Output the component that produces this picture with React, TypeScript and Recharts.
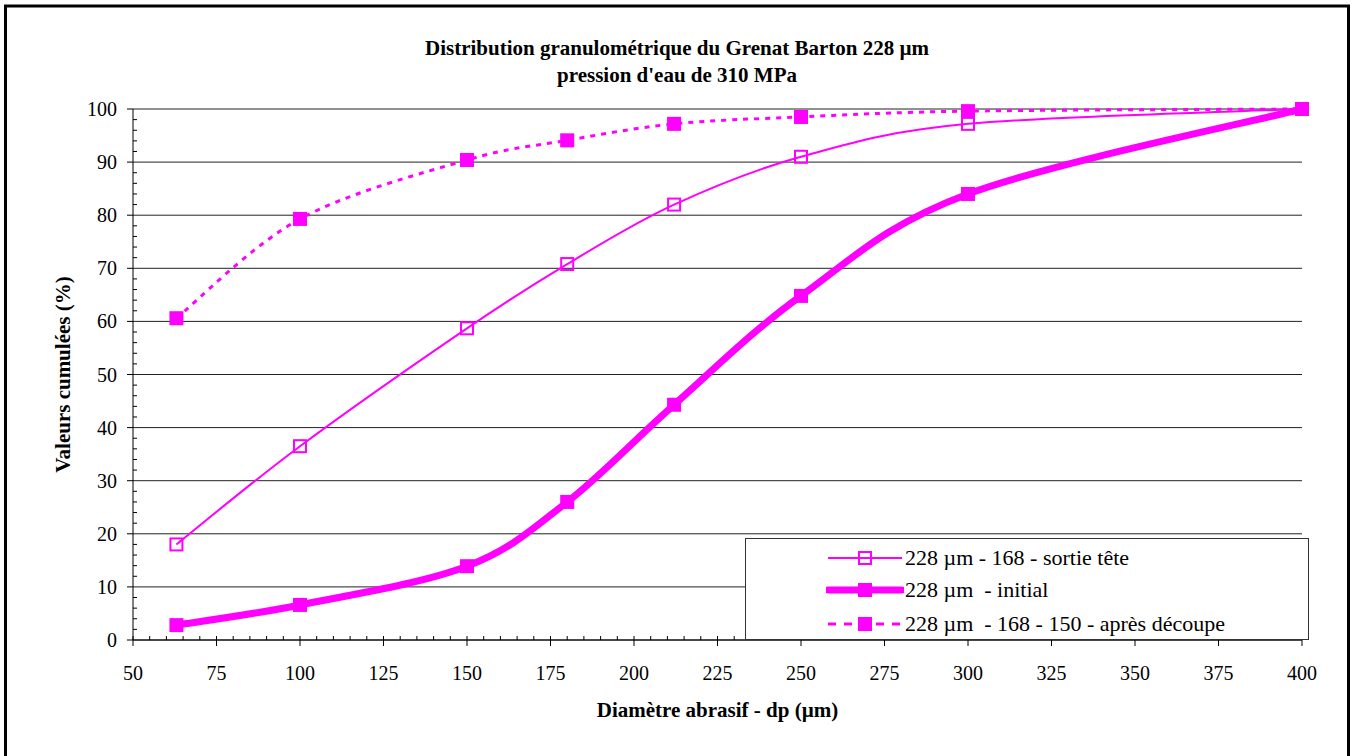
import React from 'react';
import { LineChart, Line, XAxis, YAxis, CartesianGrid, Legend } from 'recharts';

// diamètres mesurés (µm)
const diameters = [63, 100, 150, 180, 212, 250, 300, 400];
// valeurs cumulées (%)
const sortieTete = [18, 36.5, 58.7, 70.8, 82, 91, 97.2, 100];
const initial = [2.8, 6.6, 13.9, 26, 44.3, 64.8, 84, 100];
const apresDecoupe = [60.6, 79.3, 90.4, 94.1, 97.2, 98.5, 99.6, 100];

const xMajorTicks = [50, 75, 100, 125, 150, 175, 200, 225, 250, 275, 300, 325, 350, 375, 400];
const yMajorTicks = [0, 10, 20, 30, 40, 50, 60, 70, 80, 90, 100];

// graduations secondaires : 5 par intervalle en x, 5 par intervalle en y
const xTicks = xMajorTicks.flatMap((t, i) =>
  i === xMajorTicks.length - 1 ? [t] : [t, t + 5, t + 10, t + 15, t + 20]
);
const yTicks = yMajorTicks.flatMap((t, i) =>
  i === yMajorTicks.length - 1 ? [t] : [t, t + 2, t + 4, t + 6, t + 8]
);

const data = diameters.map((d, i) => ({
  d,
  sortie: sortieTete[i],
  initial: initial[i],
  apres: apresDecoupe[i],
}));

const MAGENTA = '#FF00FF';
const FONT = '"Liberation Serif", "Times New Roman", serif';

const series = [
  { key: 'sortie', name: '228 µm - 168 - sortie tête', width: 2, dash: undefined, open: true },
  { key: 'initial', name: '228 µm  - initial', width: 7, dash: undefined, open: false },
  { key: 'apres', name: '228 µm  - 168 - 150 - après découpe', width: 3, dash: '5 6', open: false },
];

// lissage type Excel (Bézier / Catmull-Rom)
const excelSmooth = (context: any) => {
  let pts: [number, number][] = [];
  return {
    areaStart() {},
    areaEnd() {},
    lineStart() {
      pts = [];
    },
    lineEnd() {
      const n = pts.length;
      if (!n) return;
      context.moveTo(pts[0][0], pts[0][1]);
      for (let i = 0; i < n - 1; i++) {
        const p0 = pts[i - 1] || pts[i];
        const p1 = pts[i];
        const p2 = pts[i + 1];
        const p3 = pts[i + 2] || p2;
        context.bezierCurveTo(
          p1[0] + (p2[0] - p0[0]) / 6,
          p1[1] + (p2[1] - p0[1]) / 6,
          p2[0] - (p3[0] - p1[0]) / 6,
          p2[1] - (p3[1] - p1[1]) / 6,
          p2[0],
          p2[1]
        );
      }
    },
    point(x: number, y: number) {
      pts.push([+x, +y]);
    },
  };
};

const squareDot = (open: boolean) => (p: any) => {
  const s = open ? 12 : 14;
  return (
    <rect
      key={p.index}
      x={p.cx - s / 2}
      y={p.cy - s / 2}
      width={s}
      height={s}
      fill={open ? 'none' : MAGENTA}
      stroke={MAGENTA}
      strokeWidth={open ? 2 : 0}
    />
  );
};

const XTick = (props: any) => {
  const { x, y, payload } = props;
  const v = payload.value;
  const major = xMajorTicks.includes(v);
  return (
    <g>
      {major ? (
        <line x1={x} x2={x} y1={y - 4} y2={y + 6} stroke="#000" />
      ) : (
        <line x1={x} x2={x} y1={y} y2={y - 4} stroke="#000" />
      )}
      {major && (
        <text x={x} y={y + 40} textAnchor="middle" fontSize={20} fontFamily={FONT} fill="#000">
          {v}
        </text>
      )}
    </g>
  );
};

const YTick = (props: any) => {
  const { x, y, payload } = props;
  const v = payload.value;
  const major = yMajorTicks.includes(v);
  return (
    <g>
      {major ? (
        <line x1={x - 6} x2={x} y1={y} y2={y} stroke="#000" />
      ) : (
        <line x1={x} x2={x + 4} y1={y} y2={y} stroke="#000" />
      )}
      {major && (
        <text x={x - 16} y={y + 7} textAnchor="end" fontSize={20} fontFamily={FONT} fill="#000">
          {v}
        </text>
      )}
    </g>
  );
};

const LegendBox = () => {
  const rows = [19, 51, 85];
  return (
    <div
      style={{
        position: 'relative',
        width: 562,
        height: 100,
        border: '1px solid #333',
        background: '#fff',
        fontFamily: FONT,
        fontSize: 22,
      }}
    >
      {series.map((s, i) => (
        <div
          key={s.key}
          style={{
            position: 'absolute',
            left: 80,
            top: rows[i] - 14,
            height: 28,
            display: 'flex',
            alignItems: 'center',
            whiteSpace: 'pre',
          }}
        >
          <svg width={78} height={28}>
            <line
              x1={2}
              x2={76}
              y1={14}
              y2={14}
              stroke={MAGENTA}
              strokeWidth={s.width}
              strokeDasharray={s.dash ? '8 8' : undefined}
              strokeLinecap={s.key === 'initial' ? 'round' : 'butt'}
            />
            {squareDot(s.open)({ cx: 39, cy: 14, index: 0 })}
          </svg>
          <span style={{ marginLeft: 1 }}>{s.name}</span>
        </div>
      ))}
    </div>
  );
};

export default function App() {
  return (
    <div
      style={{
        position: 'absolute',
        left: 0,
        top: 0,
        width: 1354,
        height: 756,
        overflow: 'hidden',
        background: '#fff',
        fontFamily: FONT,
      }}
    >
      <div
        style={{
          position: 'absolute',
          left: 0,
          width: 1354,
          top: 35,
          textAlign: 'center',
          fontWeight: 'bold',
          fontSize: 21,
          lineHeight: '27px',
        }}
      >
        <div>Distribution granulométrique du Grenat Barton 228 µm</div>
        <div>pression d'eau de 310 MPa</div>
      </div>
      <div style={{ position: 'absolute', left: 0, top: 0 }}>
        <LineChart
          width={1354}
          height={756}
          data={data}
          margin={{ top: 109, right: 52, bottom: 86, left: 73 }}
        >
          <CartesianGrid
            horizontal
            vertical={false}
            horizontalValues={yMajorTicks}
            stroke="#222"
          />
          <XAxis
            dataKey="d"
            type="number"
            domain={[50, 400]}
            ticks={xTicks}
            interval={0}
            tickSize={0}
            tickMargin={0}
            tickLine={false}
            tick={<XTick />}
            axisLine={{ stroke: '#000' }}
            height={30}
            label={{
              content: (p: any) => (
                <text
                  x={p.viewBox.x + p.viewBox.width / 2}
                  y={p.viewBox.y + 77}
                  textAnchor="middle"
                  fontWeight="bold"
                  fontSize={21}
                  fontFamily={FONT}
                  fill="#000"
                >
                  Diamètre abrasif - dp (µm)
                </text>
              ),
            }}
          />
          <YAxis
            type="number"
            domain={[0, 100]}
            ticks={yTicks}
            interval={0}
            tickSize={0}
            tickMargin={0}
            tickLine={false}
            tick={<YTick />}
            axisLine={{ stroke: '#000' }}
            width={60}
            label={{
              content: (p: any) => {
                const cx = p.viewBox.x - 10;
                const cy = p.viewBox.y + p.viewBox.height / 2;
                return (
                  <text
                    x={cx}
                    y={cy}
                    transform={`rotate(-90, ${cx}, ${cy})`}
                    textAnchor="middle"
                    dominantBaseline="central"
                    fontWeight="bold"
                    fontSize={21}
                    fontFamily={FONT}
                    fill="#000"
                  >
                    Valeurs cumulées (%)
                  </text>
                );
              },
            }}
          />
          <Legend
            layout="horizontal"
            verticalAlign="middle"
            align="center"
            content={<LegendBox />}
            wrapperStyle={{ left: 745, top: 538, width: 564, height: 102 }}
          />
          {series.map((s) => (
            <Line
              key={s.key}
              type={excelSmooth as any}
              dataKey={s.key}
              name={s.name}
              stroke={MAGENTA}
              strokeWidth={s.width}
              strokeDasharray={s.dash}
              dot={squareDot(s.open)}
              activeDot={false}
              isAnimationActive={false}
            />
          ))}
        </LineChart>
      </div>
      <svg
        width={1354}
        height={756}
        style={{ position: 'absolute', left: 0, top: 0, zIndex: 5, pointerEvents: 'none' }}
      >
        <rect x={5.5} y={6} width={1343} height={800} fill="none" stroke="#000" strokeWidth={3} />
      </svg>
    </div>
  );
}
